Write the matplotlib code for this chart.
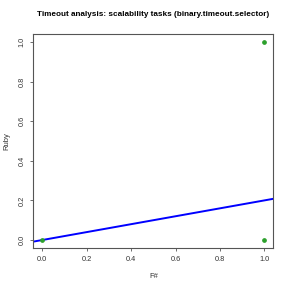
import matplotlib
matplotlib.use("Agg")
import matplotlib.pyplot as plt

# observed points
fsharp = [0.0, 1.0, 1.0]
ruby = [0.0, 0.0, 1.0]

# fitted line
intercept = 0.0
slope = 0.2

xticks = [0.0, 0.2, 0.4, 0.6, 0.8, 1.0]
yticks = [0.0, 0.2, 0.4, 0.6, 0.8, 1.0]

plt.rcParams['font.family'] = ['Liberation Sans', 'DejaVu Sans']

fig = plt.figure(figsize=(2.91, 2.91), dpi=100)
ax = fig.add_axes([0.115, 0.148, 0.824, 0.735])

ax.plot(fsharp, ruby, 'o', color='#2ca02c', markersize=2.4, zorder=3)
ax.axline((0, intercept), slope=slope, color='#0000ff', linewidth=1.4, zorder=2)

ax.set_xlim(-0.04, 1.04)
ax.set_ylim(-0.04, 1.04)
ax.set_xticks(xticks)
ax.set_yticks(yticks)
ax.set_xticklabels([f"{t:.1f}" for t in xticks])
ax.set_yticklabels([f"{t:.1f}" for t in yticks], rotation=90, va='center')

for s in ax.spines.values():
    s.set_color('#555555')
    s.set_linewidth(0.8)
ax.tick_params(colors='#555555', labelcolor='#333333', labelsize=5.3,
               length=2.3, width=0.6, pad=3.5)

ax.set_xlabel('F#', fontsize=5.5, color='#333333', labelpad=7)
ax.set_ylabel('Ruby', fontsize=5.5, color='#333333', labelpad=6)
ax.set_title('Timeout analysis: scalability tasks (binary.timeout.selector)',
             fontsize=5.9, fontweight='bold', pad=13)

fig.savefig('out.png', dpi=100)
